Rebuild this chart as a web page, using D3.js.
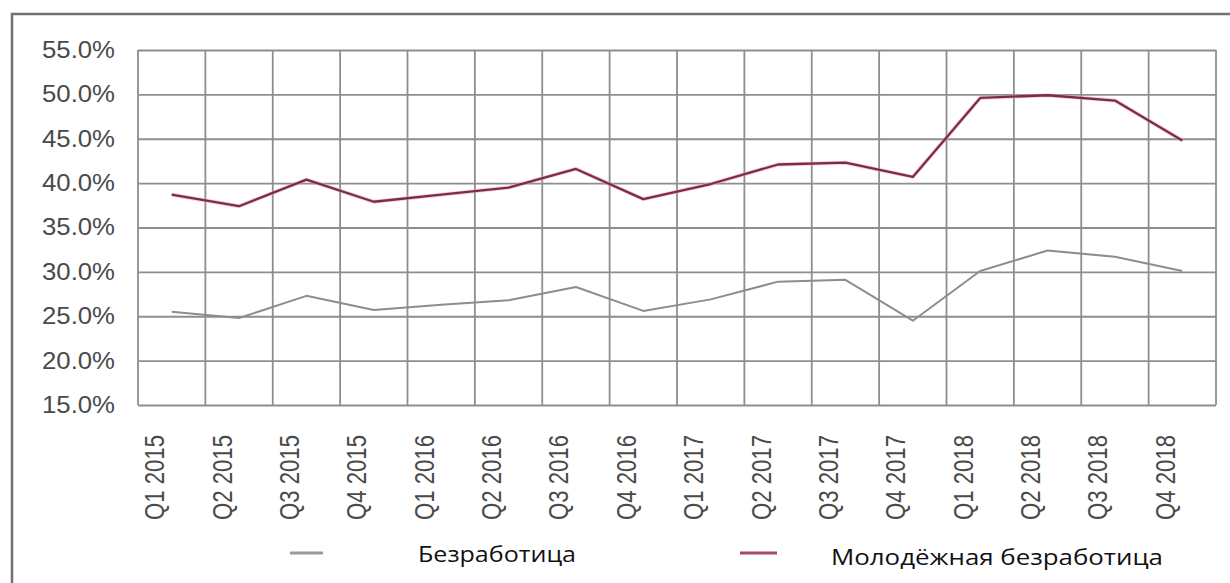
<!DOCTYPE html>
<html>
<head>
<meta charset="utf-8">
<script src="https://cdn.jsdelivr.net/npm/d3@7"></script>
<style>
  body { margin: 0; background: #fff; }
  .grid line, .grid path { stroke: #8e8e8e; stroke-width: 1.8; }
  .line { fill: none; stroke-linejoin: round; }
</style>
</head>
<body>
<script>
// data
const quarters = ['Q1 2015', 'Q2 2015', 'Q3 2015', 'Q4 2015',
                  'Q1 2016', 'Q2 2016', 'Q3 2016', 'Q4 2016',
                  'Q1 2017', 'Q2 2017', 'Q3 2017', 'Q4 2017',
                  'Q1 2018', 'Q2 2018', 'Q3 2018', 'Q4 2018'];
const unemployment = [25.5, 24.8, 27.3, 25.7, 26.3, 26.8, 28.3, 25.6,
                      26.9, 28.9, 29.1, 24.5, 30.1, 32.4, 31.7, 30.1];
const youthUnemployment = [38.7, 37.4, 40.4, 37.9, 38.7, 39.5, 41.6, 38.2,
                           39.9, 42.1, 42.3, 40.7, 49.6, 49.9, 49.3, 44.8];
const yTicks = [15, 20, 25, 30, 35, 40, 45, 50, 55];
const legendLabels = ['Безработица', 'Молодёжная безработица'];

const W = 1230, H = 583;
const plot = { left: 138, right: 1216, top: 50, bottom: 405 };

const svg = d3.select('body').append('svg')
              .attr('width', W)
              .attr('height', H);

// outer frame (runs off the right and bottom of the picture)
svg.append('rect')
   .attr('x', 12).attr('y', 14)
   .attr('width', W + 20).attr('height', H + 20)
   .style('fill', '#fff')
   .style('stroke', '#707070')
   .style('stroke-width', 2.5);

// scales
const x = d3.scaleBand().domain(quarters).range([plot.left, plot.right]);
const y = d3.scaleLinear().domain([15, 55]).range([plot.bottom, plot.top]);

// horizontal grid + y labels
const yAxis = svg.append('g').attr('class', 'grid')
                 .attr('transform', 'translate(' + plot.left + ',0)')
                 .call(d3.axisLeft(y)
                   .tickValues(yTicks)
                   .tickSize(-(plot.right - plot.left))
                   .tickSizeOuter(0)
                   .tickPadding(23)
                   .tickFormat(d => d.toFixed(1) + '%'));
yAxis.select('.domain').remove();
yAxis.selectAll('text')
     .style('font-family', '"Liberation Sans Narrow", "Liberation Sans", Arial, sans-serif')
     .style('font-size', '23px')
     .style('fill', '#4a4a4a')
     .attr('textLength', 73)
     .attr('lengthAdjust', 'spacingAndGlyphs');

// vertical grid on band edges
const edges = quarters.map(q => x(q)).concat([plot.right]);
svg.append('g').attr('class', 'grid')
   .selectAll('line')
   .data(edges)
   .enter().append('line')
   .attr('x1', d => d).attr('x2', d => d)
   .attr('y1', plot.top).attr('y2', plot.bottom);

// x labels, rotated
svg.append('g')
   .selectAll('text')
   .data(quarters)
   .enter().append('text')
   .attr('transform', d => 'translate(' + (x(d) + x.bandwidth() / 2 - 17) + ',435) rotate(-90)')
   .attr('dy', '0.35em')
   .attr('text-anchor', 'end')
   .attr('textLength', 85)
   .attr('lengthAdjust', 'spacingAndGlyphs')
   .style('font-family', '"Liberation Sans Narrow", "Liberation Sans", Arial, sans-serif')
   .style('font-size', '27px')
   .style('fill', '#4a4a4a')
   .text(d => d);

// lines
const line = d3.line()
               .x((d, i) => x(quarters[i]) + x.bandwidth() / 2)
               .y(d => y(d));

svg.append('path').datum(unemployment)
   .attr('class', 'line')
   .attr('d', line)
   .style('stroke', '#8d8d8d')
   .style('stroke-width', 2);

svg.append('path').datum(youthUnemployment)
   .attr('class', 'line')
   .attr('d', line)
   .style('stroke', '#e8a5b8')
   .style('stroke-width', 4)
   .style('opacity', 0.5);

svg.append('path').datum(youthUnemployment)
   .attr('class', 'line')
   .attr('d', line)
   .style('stroke', '#7e2b48')
   .style('stroke-width', 2.3);

// legend
const legend = [
  { label: legendLabels[0], color: '#9a9a9a', x1: 290, x2: 323, tx: 418, tw: 158 },
  { label: legendLabels[1], color: '#a8476a', x1: 740, x2: 777, tx: 831, tw: 332 }
];

const lg = svg.append('g').selectAll('g').data(legend).enter().append('g');
lg.append('line')
  .attr('x1', d => d.x1).attr('x2', d => d.x2)
  .attr('y1', 553).attr('y2', 553)
  .style('stroke', d => d.color)
  .style('stroke-width', 3);
lg.append('text')
  .attr('x', d => d.tx).attr('y', (d, i) => 562 + i * 3)
  .attr('textLength', d => d.tw)
  .attr('lengthAdjust', 'spacingAndGlyphs')
  .style('font-family', '"Open Sans", "Noto Sans", sans-serif')
  .style('font-size', '21px')
  .style('fill', '#111')
  .text(d => d.label);
</script>
</body>
</html>
